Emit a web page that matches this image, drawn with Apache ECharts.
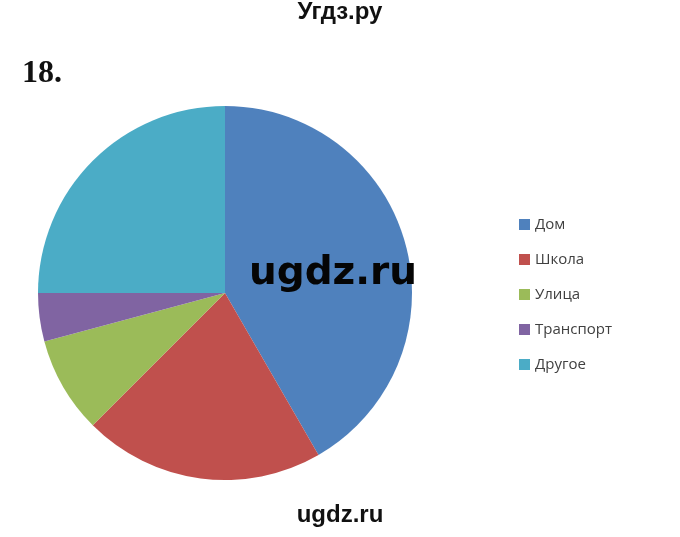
<!DOCTYPE html>
<html>
<head>
<meta charset="utf-8">
<script src="https://cdn.jsdelivr.net/npm/echarts@6/dist/echarts.min.js"></script>
<style>
  html, body { margin: 0; padding: 0; background: #fff; }
  #chart { width: 680px; height: 537px; }
</style>
</head>
<body>
<div id="chart"></div>
<script>
var categories = ['Дом', 'Школа', 'Улица', 'Транспорт', 'Другое'];
var counts = [10, 5, 2, 1, 6];
var colors = ['#4F81BD', '#C0504D', '#9BBB59', '#8064A2', '#4BACC6'];

var pieData = categories.map(function (name, i) {
	return { name: name, value: counts[i], itemStyle: { color: colors[i] } };
});

var chart = echarts.init(document.getElementById('chart'));
var option = {
	backgroundColor: '#ffffff',
	animation: false,
	legend: {
		orient: 'vertical',
		left: 514,
		top: 212,
		icon: 'rect',
		itemWidth: 11,
		itemHeight: 11,
		itemGap: 20,
		textStyle: {
			color: '#404040',
			fontSize: 15,
			fontFamily: 'Open Sans'
		},
		data: categories
	},
	series: [
		{
			type: 'pie',
			center: [225, 293],
			radius: 187,
			startAngle: 90,
			clockwise: true,
			label: { show: false },
			labelLine: { show: false },
			emphasis: { disabled: true },
			itemStyle: { borderWidth: 0 },
			data: pieData
		}
	],
	graphic: [
		{
			type: 'text', left: 'center', top: 0,
			style: { text: 'Угдз.ру', fontSize: 24, fontWeight: 'bold', fontFamily: 'Liberation Sans', fill: '#111' }
		},
		{
			type: 'text', left: 22, top: 58,
			style: { text: '18.', fontSize: 32, fontWeight: 'bold', fontFamily: 'Liberation Serif', fill: '#111' }
		},
		{
			type: 'text', left: 249, top: 254, z: 100,
			style: { text: 'ugdz.ru', fontSize: 39, fontWeight: 'bold', fontFamily: 'DejaVu Sans', fill: '#050505' }
		},
		{
			type: 'text', left: 'center', top: 503,
			style: { text: 'ugdz.ru', fontSize: 24, fontWeight: 'bold', fontFamily: 'Liberation Sans', fill: '#111' }
		}
	]
};
chart.setOption(option);
</script>
</body>
</html>
